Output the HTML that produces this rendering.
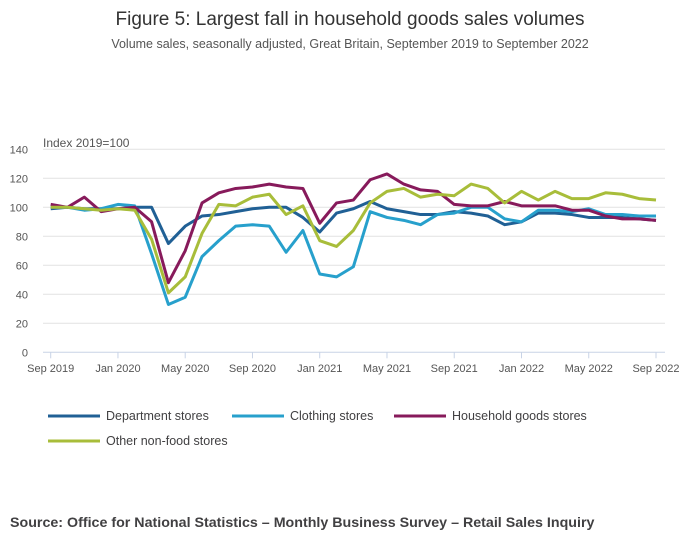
<!DOCTYPE html>
<html><head><meta charset="utf-8"><style>
body{margin:0;background:#fff;font-family:"Liberation Sans",sans-serif;}
#w{position:relative;width:700px;height:549px;overflow:hidden}
</style></head><body>
<div id="w">
<svg id="s" width="700" height="549" xmlns="http://www.w3.org/2000/svg">
<text x="350" y="25" text-anchor="middle" font-size="19" fill="#333">Figure 5: Largest fall in household goods sales volumes</text>
<text x="350" y="48" text-anchor="middle" font-size="12.5" fill="#555">Volume sales, seasonally adjusted, Great Britain, September 2019 to September 2022</text>
<text x="43" y="147" font-size="12" fill="#555">Index 2019=100</text>
<g id="grid"></g><g id="lines"></g><g id="legend"></g>
<text x="10" y="527" font-size="14.25" font-weight="bold" fill="#414042">Source: Office for National Statistics – Monthly Business Survey – Retail Sales Inquiry</text>
</svg></div>
<script>
const yTicks=[0,20,40,60,80,100,120,140];
const xTickLabels=["Sep 2019","Jan 2020","May 2020","Sep 2020","Jan 2021","May 2021","Sep 2021","Jan 2022","May 2022","Sep 2022"];
const seriesNames=["Department stores","Clothing stores","Household goods stores","Other non-food stores"];
const seriesColors=["#206095","#27a0cc","#871a5b","#a8bd3a"];
const department=[99,100,99,99,99,100,100,75,87,94,95,97,99,100,100,93,83,96,99,104,99,97,95,95,97,96,94,88,90,96,96,95,93,93,93,92,91];
const clothing=[100,100,98,99,102,101,68,33,38,66,77,87,88,87,69,84,54,52,59,97,93,91,88,95,96,100,100,92,90,98,98,97,99,95,95,94,94];
const household=[102,100,107,97,99,100,90,48,70,103,110,113,114,116,114,113,89,103,105,119,123,116,112,111,102,101,101,104,101,101,101,98,98,94,92,92,91];
const otherNonFood=[100,100,99,98,99,98,78,41,52,82,102,101,107,109,95,101,77,73,84,103,111,113,107,109,108,116,113,103,111,105,111,106,106,110,109,106,105];
const allSeries=[department,clothing,household,otherNonFood];
const NS="http://www.w3.org/2000/svg";
const x0=50.7,x1=656,y0=352.3,y1=149.3;
const xs=i=>x0+(x1-x0)*i/36;
const ys=v=>y0-(y0-y1)*v/140;
function mk(t,a,p){const e=document.createElementNS(NS,t);for(const k in a)e.setAttribute(k,a[k]);p.appendChild(e);return e;}
const g=document.getElementById('grid');
yTicks.forEach(v=>{
 const l=mk('line',{x1:43,x2:665,y1:ys(v),y2:ys(v),stroke:v===0?'#c8d3e6':'#e2e2e2','stroke-width':1},g);
 
 
 const t=mk('text',{x:28,y:ys(v)+4,'text-anchor':'end','font-size':11,fill:'#555'},g);t.textContent=v;
 
 
});
xTickLabels.forEach((s,i)=>{
 const x=xs(i*4);
 const l=mk('line',{x1:x,x2:x,y1:y0,y2:y0+6,stroke:'#c8d3e6'},g);
 
 
 const t=mk('text',{x:x,y:372,'text-anchor':'middle','font-size':11,fill:'#555'},g);t.textContent=s;
 
 
});
const lg=document.getElementById('lines');
allSeries.forEach((d,k)=>{
 const p=mk('polyline',{points:d.map((v,i)=>xs(i)+','+ys(v)).join(' '),fill:'none',stroke:seriesColors[k],'stroke-width':3,'stroke-linejoin':'round'},lg);
 
 
});
const L=document.getElementById('legend');
const pos=[[48,416],[232,416],[394,416],[48,441]];
seriesNames.forEach((n,k)=>{
 const [x,y]=pos[k];
 const gg=mk('g',{},L);
 
 
 mk('line',{x1:x,x2:x+52,y1:y,y2:y,stroke:seriesColors[k],'stroke-width':3},gg);
 const t=mk('text',{x:x+58,y:y+4,'font-size':12.5,fill:'#414042'},gg);t.textContent=n;
});
</script>
</body></html>
